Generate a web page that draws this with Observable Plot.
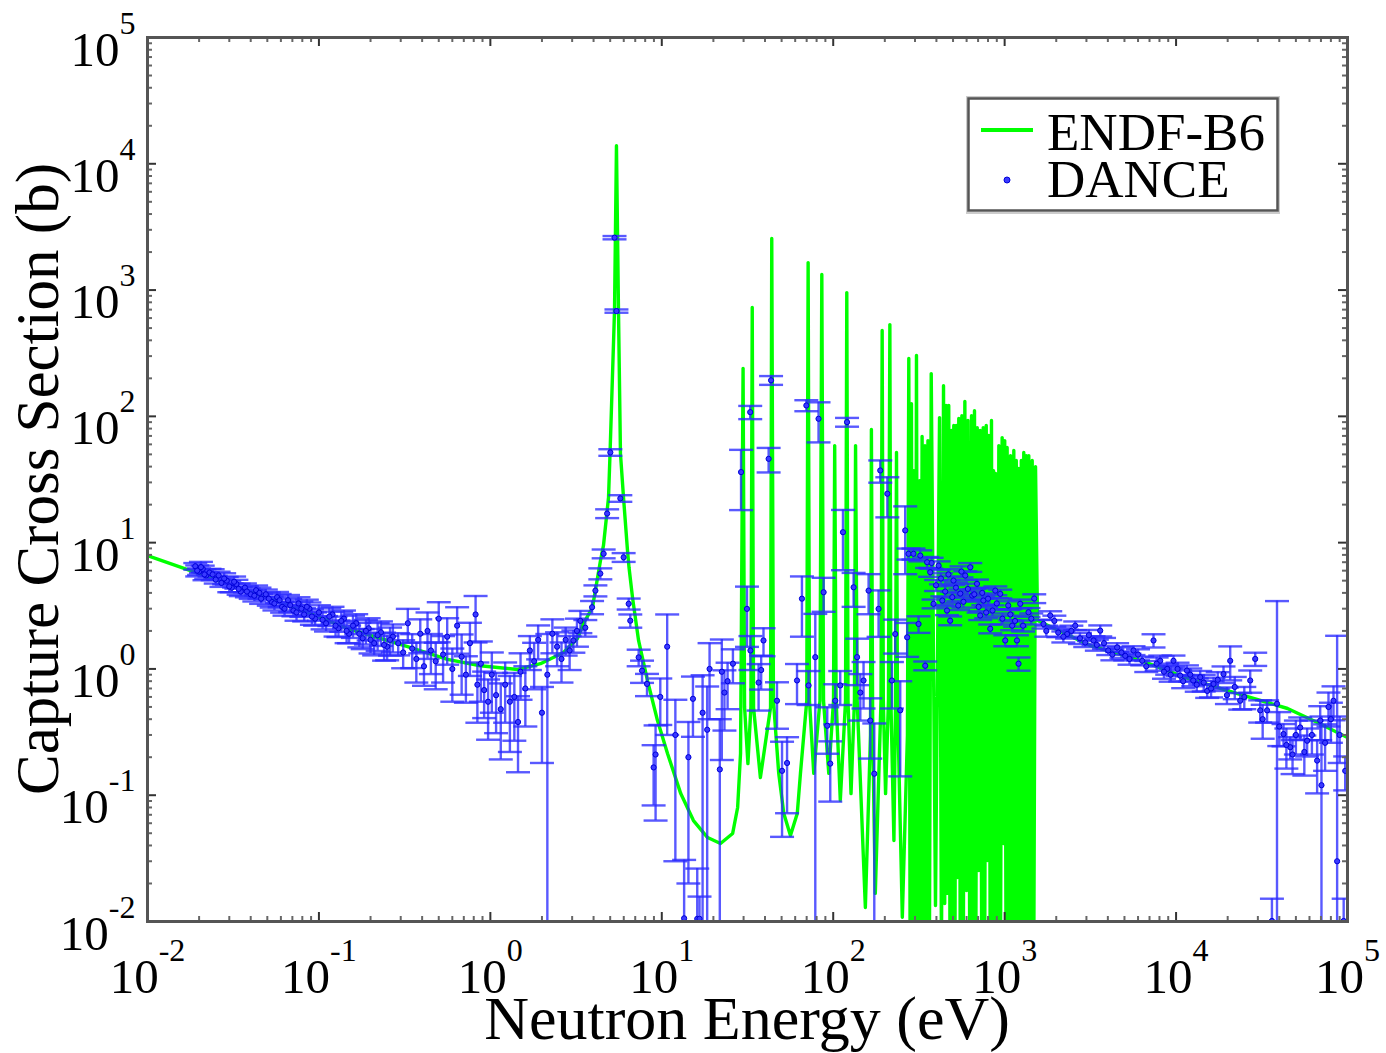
<!DOCTYPE html>
<html><head><meta charset="utf-8">
<script src="https://cdn.jsdelivr.net/npm/d3@7"></script>
<script src="https://cdn.jsdelivr.net/npm/@observablehq/plot@0.6"></script>
<style>
html,body{margin:0;padding:0;background:#fff;}
#chart{width:1386px;height:1053px;}
</style></head><body><div id="chart"></div>
<script>
// ---------- axis ticks ----------
const xTicks = [1e-2, 1e-1, 1, 10, 100, 1e3, 1e4, 1e5];
const xTickExponents = ["-2", "-1", "0", "1", "2", "3", "4", "5"];
const yTicks = [1e-2, 1e-1, 1, 10, 100, 1e3, 1e4, 1e5];
const yTickExponents = ["-2", "-1", "0", "1", "2", "3", "4", "5"];
const decadeExponents = [-2, -1, 0, 1, 2, 3, 4];
const minorMultipliers = [2, 3, 4, 5, 6, 7, 8, 9];

// ---------- ENDF-B6 evaluated curve (eV, barns) ----------
const endfEnergy = [
  0.01,0.0178,0.078,0.147,0.329,0.562,0.876,1.44,1.96,2.67,3.22,3.49,3.94,4.39,4.57,4.89,4.99,5.30,5.44,5.59,5.74,5.98,6.31,6.44,6.75,7.32,8.25,9.44,10.8,12.9,15.3,18.5,22.0,25.9,27.7,28.8,
  29.8,30.4,31.8,33.1,33.7,34.3,37.6,43.1,43.8,44.8,48.1,51.5,56.3,61.7,64.4,70.1,71.4,72.7,77.0,83.7,85.8,87.8,94.2,100.4,102,104,110,118,120,122,127,133,135,138,154,165,167,170,176,190,193,196,202,210,214,217,226,231,234,237,253,271,276,
  281,286,291,296,301,306,312,319,324,330,336,343,350,357,364,373,395,417,428,440,447,455,464,472,480,489,496,505,513,522,531,540,551,563,574,586,599,611,626,641,654,667,679,692,706,720,735,750,765,781,794,808,824,838,849,861,873,885,905,925,946,967,985,1001,1019,1034,1057,1082,1107,1131,1149,1169,1189,1209,1229,1251,1271,1293,1315,1338,1359,1383,1415,1448,1479,1514,1555,
  3170,6200,11350,22800,44700,66800,100000
];
const endfSigma = [
  7.9,6.0,2.95,2.09,1.50,1.19,1.06,0.99,1.10,1.35,1.74,2.29,3.06,7.22,9.5,22.8,50.8,688,13900,688,50.8,22.8,8.66,6.35,3.67,1.68,0.81,0.39,0.214,0.103,0.063,0.0462,0.0415,0.0498,0.080,0.214,
  240,0.5,0.178,0.5,727,0.495,0.138,0.495,2560,0.562,0.149,0.0716,0.048,0.0716,0.149,0.56,1650,0.56,0.149,0.56,1330,0.56,0.149,0.56,58.7,0.56,0.091,0.56,955,0.56,0.103,0.56,58.7,0.56,0.0129,0.3,78.6,0.3,0.0167,0.56,478,0.56,0.103,0.56,533,0.56,0.0438,0.56,51.7,0.56,0.0108,0.3,287,
  0.0049,126,0.0049,37.2,0.0049,303,0.0049,31.0,0.0049,69.2,0.0049,58.7,0.0049,64.3,0.0049,218,0.0134,97.8,0.0049,175,0.0139,122,0.0167,122,0.0049,77.2,0.0049,84.6,0.0049,84.6,0.0223,96.1,0.0049,101,0.0049,131,0.0176,92.6,0.0049,101,0.0049,111,0.0049,81.5,0.0253,77.2,0.0049,81.5,0.0049,84.6,0.0304,70.5,0.0049,92.6,0.0049,37.2,0.0049,35.3,0.0049,58.7,0.0049,67.9,0.0415,64.3,0.0049,56.6,0.0049,48.9,0.0049,53.6,0.0049,44.7,0.0049,38.6,0.0049,44.7,0.0049,51.7,0.0049,48.9,0.0049,48.9,0.0049,44.7,0.0049,40.0,2.42,
  1.53,1.17,0.855,0.638,0.486,0.376,0.286
];

// ---------- DANCE measurement (eV, barns, relative uncertainty) ----------
const danceEnergy = [
  0.019,0.020,0.021,0.022,0.023,0.025,0.026,0.027,0.029,0.031,0.033,0.035,0.037,0.040,0.043,0.046,0.049,0.053,0.057,0.061,0.066,0.071,0.076,0.082,0.088,0.095,0.10,0.11,0.12,0.13,0.14,0.15,0.165,0.18,0.195,0.21,0.23,0.25,0.27,
  0.29,0.31,0.33,0.35,0.37,0.39,0.41,0.43,0.45,0.48,0.50,0.53,0.56,0.60,0.64,0.68,0.72,0.76,0.82,0.84,0.88,0.92,0.97,1.02,1.08,1.15,1.22,1.3,1.38,1.45,1.5,1.6,1.7,1.8,1.9,2.0,2.15,2.3,2.45,2.6,2.75,2.9,3.05,3.2,3.35,3.58,3.92,4.10,4.38,4.58,4.80,5.01,5.30,5.44,5.73,5.99,6.41,6.55,7.33,7.67,8.2,
  8.96,9.2,9.8,10.75,12.0,13.5,14.3,15.2,16.1,16.6,17.3,18.4,19.0,21.8,22.4,23.2,24.2,26.0,
  29.0,31.4,32.8,32.9,36.7,38.0,39.2,42.0,43.4,47.0,50.3,53.8,61.5,65.7,69.7,71.8,78.6,82.1,87.9,92.3,96.1,102.8,109.9,114,120.4,131.5,137.8,143.9,150.3,160.8,164.5,173.6,183.9,188.1,206.9,220,230,246,263,270,275,294,314.6,322,344,353,
  368,385,412,433,461,481,503,536,551,589,630,647,690,720,751,824,882,943,1008,1049,1106,1180,1205,1233,1378,1488,
  1685,1845,2054,2315,2581,2952,3299,3611,4020,4530,5051,5647,6347,7386,8081,8878,9659,10570,11570,12590,13830,15190,16540,18910,20690,23670,27070,28950,30960,33960,36240,38800,42340,46320,47800,52970,58150,66500,69300,70500,77460,82860,87000,95000,96960,
  0.0195,0.0205,0.0215,0.024,0.028,0.030,0.032,0.034,0.038,0.042,0.045,0.051,0.055,0.059,0.063,0.068,0.074,0.079,0.085,0.091,0.105,0.115,0.125,0.135,0.145,0.158,0.172,0.188,0.2,0.22,0.24,0.26,
  375,398,425,450,470,495,520,560,575,610,665,705,740,780,800,850,900,970,1080,1150,1280,1430,
  1750,1950,2200,2450,2750,3100,3450,3800,4250,4800,5350,6000,6700,7700,8500,9300,10200,11000,12100,13200,14500,16000,17500,19800,22000,25000,32000,40000,44000,50000,56000,62000,74000,80000,90000
];
const danceSigma = [
  6.5,5.9,6.2,5.5,5.8,5.1,5.5,4.8,5.0,4.4,4.7,4.1,4.4,3.9,4.2,3.6,3.9,3.4,3.7,3.1,3.5,2.9,3.3,2.7,3.0,2.5,2.8,2.3,2.7,2.1,2.5,1.9,2.3,1.75,2.1,1.6,1.95,1.5,1.8,
  1.6,1.35,2.3,1.45,1.2,1.9,1.05,2.0,1.4,1.15,2.5,1.3,1.8,1.0,2.2,1.25,0.9,1.6,2.7,0.75,1.1,0.68,0.55,0.9,0.62,0.48,0.75,0.55,0.6,0.38,0.95,0.7,1.4,1.15,1.7,0.45,0.9,1.9,1.5,1.2,1.7,1.4,1.68,2.0,2.4,2.12,3.08,4.17,5.69,8.17,17.0,51.8,2600,682,22.4,7.65,3.28,2.41,1.235,0.969,0.761,
  0.166,0.21,0.6,1.5,0.3,0.0106,0.2,0.58,0.0105,0.0105,0.45,0.33,1.0,0.16,0.95,0.65,0.8,1.1,
  36.2,2.99,108,1.4,0.78,0.98,1.68,46.1,193,0.56,0.156,0.18,0.81,3.6,122,0.74,1.24,95.7,4.05,0.355,0.178,0.56,0.74,12.1,90,4.43,1.24,0.65,0.81,4.17,0.39,0.148,2.99,37.3,24.4,0.81,1.89,0.47,12.5,1.78,8.16,8.16,2.27,7.9,1.06,7.0,
  5.83,3.28,6.58,3.48,2.9,2.41,5.01,3.18,3.95,5.49,6.38,3.81,4.72,2.65,3.48,2.08,4.17,3.93,1.68,3.18,2.2,1.68,1.1,3.28,2.81,3.61,
  2.27,2.65,1.94,1.89,2.2,1.62,1.68,2.01,1.4,1.48,1.27,1.4,1.16,1.68,1.16,1.0,1.16,0.885,0.97,0.81,0.86,0.67,0.76,0.91,1.16,0.56,0.81,1.2,0.47,0.47,0.0101,0.53,0.305,0.24,0.21,0.344,0.27,0.188,0.39,0.12,0.5,0.56,0.03,0.0101,0.156,
  6.0,6.4,5.6,5.6,5.2,4.5,4.9,4.3,4.1,3.8,4.0,3.6,3.3,3.5,3.0,3.2,2.8,3.0,3.1,2.6,2.45,2.6,2.2,2.4,2.0,2.2,1.9,2.0,1.7,1.85,1.55,1.7,
  6.9,4.6,5.2,4.1,5.6,3.7,4.4,5.9,3.4,4.3,3.9,3.1,4.0,2.8,3.6,2.9,3.3,2.5,2.7,2.4,2.2,2.5,
  2.0,2.4,1.8,2.0,1.75,1.85,1.55,1.6,1.3,1.35,1.2,1.3,1.05,1.1,0.95,0.9,1.0,0.8,0.9,0.75,0.78,0.7,0.82,0.62,0.72,0.6,0.4,0.35,0.25,0.3,0.22,0.3,0.26,0.4,0.3
];
const danceRelErr = [
  0.06,0.06,0.06,0.06,0.07,0.07,0.07,0.07,0.07,0.08,0.08,0.08,0.08,0.08,0.09,0.09,0.09,0.1,0.1,0.1,0.1,0.1,0.12,0.12,0.12,0.12,0.14,0.14,0.15,0.15,0.16,0.16,0.18,0.18,0.2,0.2,0.22,0.22,0.25,
  0.2,0.25,0.3,0.3,0.35,0.3,0.3,0.4,0.35,0.4,0.35,0.4,0.4,0.45,0.4,0.5,0.4,0.45,0.4,0.5,0.5,0.4,0.5,0.5,0.5,0.6,0.5,0.6,0.55,0.6,0.4,0.5,0.3,0.4,0.3,0.6,1.1,0.3,0.3,0.35,0.25,0.3,0.2,0.25,0.2,0.15,0.12,0.1,0.1,0.08,0.08,0.06,0.03,0.03,0.06,0.08,0.1,0.12,0.15,0.2,0.2,
  0.5,0.7,0.4,0.8,0.9,1.9,0.9,0.5,1.5,0.5,0.98,1.2,0.6,1.5,0.8,0.5,0.4,0.3,
  0.5,0.5,0.12,0.3,0.4,0.3,0.25,0.22,0.08,0.4,0.7,0.6,0.35,0.5,0.1,0.3,1.2,0.35,0.3,0.4,0.5,0.35,0.3,0.5,0.08,0.3,0.4,0.4,0.4,0.35,0.5,1.5,0.4,0.2,0.35,0.4,0.3,0.7,0.55,0.3,0.1,0.1,0.15,0.1,0.08,0.1,
  0.08,0.08,0.08,0.08,0.08,0.08,0.08,0.08,0.08,0.08,0.08,0.08,0.08,0.08,0.08,0.08,0.08,0.08,0.1,0.08,0.08,0.1,0.12,0.08,0.08,0.08,
  0.08,0.08,0.08,0.08,0.08,0.08,0.08,0.1,0.08,0.08,0.08,0.08,0.08,0.12,0.1,0.1,0.1,0.1,0.1,0.1,0.12,0.12,0.12,0.15,0.3,0.15,0.2,0.12,0.2,0.2,0.5,5.5,0.2,0.2,0.3,0.2,0.25,0.45,0.3,2.5,0.3,0.3,60,0.5,0.3,
  0.1,0.1,0.1,0.1,0.1,0.1,0.1,0.1,0.1,0.1,0.1,0.12,0.12,0.12,0.12,0.12,0.14,0.14,0.14,0.14,0.16,0.16,0.18,0.18,0.2,0.2,0.22,0.22,0.22,0.25,0.25,0.25,
  0.1,0.1,0.1,0.1,0.1,0.1,0.1,0.1,0.1,0.1,0.1,0.1,0.1,0.1,0.1,0.1,0.1,0.1,0.1,0.1,0.1,0.1,
  0.1,0.1,0.1,0.1,0.1,0.1,0.1,0.1,0.1,0.1,0.1,0.1,0.1,0.12,0.12,0.12,0.12,0.12,0.12,0.12,0.15,0.15,0.15,0.15,0.2,0.2,0.3,0.3,0.35,0.3,0.35,0.3,0.4,0.35,0.4
];

// ---------- tables for the library ----------
const endf = endfEnergy.map((E, i) => ({E, S: endfSigma[i]}));
const dance = danceEnergy.map((E, i) => {
  const S = danceSigma[i], e = danceRelErr[i];
  return {E, S, hi: S * (1 + e), lo: Math.max(S * (1 - e), 1e-4)};
});
const minorTicks = decadeExponents.flatMap(k => minorMultipliers.map(m => m * Math.pow(10, k)));

const W = 1386, H = 1053, mL = 147, mR = 39, mT = 37, mB = 132;
const pW = W - mL - mR, pH = H - mT - mB;
const serif = "Liberation Serif, Times New Roman, serif";
const blue = "#2a2aff";

const capSymbol = {draw(ctx, size) { const w = Math.sqrt(size / Math.PI); ctx.moveTo(-w, 0); ctx.lineTo(w, 0); }};

const plot = Plot.plot({
  width: W, height: H,
  marginLeft: mL, marginRight: mR, marginTop: mT, marginBottom: mB,
  x: {type: "log", domain: [1e-2, 1e5], axis: null},
  y: {type: "log", domain: [1e-2, 1e5], axis: null},
  style: {background: "white", overflow: "visible"},
  marks: [
    Plot.line(endf, {x: "E", y: "S", stroke: "#00ff00", strokeWidth: 3.4, strokeLinejoin: "round", strokeLinecap: "round", clip: true}),
    Plot.ruleX(dance, {x: "E", y1: "lo", y2: "hi", stroke: blue, strokeOpacity: 0.78, strokeWidth: 2.4, clip: true}),
    Plot.dot(dance, {x: "E", y: "hi", symbol: capSymbol, r: 12, fill: "none", stroke: blue, strokeOpacity: 0.78, strokeWidth: 2.4, clip: true}),
    Plot.dot(dance, {x: "E", y: "lo", symbol: capSymbol, r: 12, fill: "none", stroke: blue, strokeOpacity: 0.78, strokeWidth: 2.4, clip: true}),
    Plot.dot(dance, {x: "E", y: "S", r: 2.6, fill: "#3a3aff", stroke: "#0000d8", strokeWidth: 1, clip: true}),
    // inward ticks on all four sides
    Plot.ruleX(xTicks, {insetTop: pH - 9, stroke: "#333", strokeWidth: 2}),
    Plot.ruleX(xTicks, {insetBottom: pH - 9, stroke: "#333", strokeWidth: 2}),
    Plot.ruleX(minorTicks, {insetTop: pH - 5, stroke: "#666", strokeWidth: 2}),
    Plot.ruleX(minorTicks, {insetBottom: pH - 5, stroke: "#666", strokeWidth: 2}),
    Plot.ruleY(yTicks, {insetRight: pW - 9, stroke: "#333", strokeWidth: 2}),
    Plot.ruleY(yTicks, {insetLeft: pW - 9, stroke: "#333", strokeWidth: 2}),
    Plot.ruleY(minorTicks, {insetRight: pW - 5, stroke: "#666", strokeWidth: 2}),
    Plot.ruleY(minorTicks, {insetLeft: pW - 5, stroke: "#666", strokeWidth: 2}),
    Plot.frame({stroke: "#555", strokeWidth: 3}),
    Plot.text(xTicks, {x: d => d, frameAnchor: "bottom", lineAnchor: "bottom", textAnchor: "middle", dy: 71, text: () => "10", fontSize: 49, fontFamily: serif, fill: "#000"}),
    Plot.text(yTicks, {y: d => d, frameAnchor: "left", lineAnchor: "bottom", textAnchor: "end", dx: -12, dy: 28, text: () => "10", fontSize: 49, fontFamily: serif, fill: "#000"})
  ]
});

const svg = d3.select(plot);
// append superscript exponents to the "10" tick labels (first text mark = x, second = y)
const textGroups = svg.selectAll('g[aria-label="text"]').nodes();
const addExponents = (group, exps) => {
  d3.select(group).selectAll("text").each(function (d, i) {
    d3.select(this).append("tspan").attr("dy", -32).attr("font-size", 32).text(exps[i]);
  });
};
if (textGroups.length >= 2) {
  addExponents(textGroups[0], xTickExponents);
  addExponents(textGroups[1], yTickExponents);
}

// axis titles
svg.append("text").attr("x", mL + pW / 2).attr("y", 1039).attr("text-anchor", "middle")
  .attr("font-family", serif).attr("font-size", 62).attr("fill", "#000").text("Neutron Energy (eV)");
svg.append("text").attr("transform", `translate(58,${mT + pH / 2}) rotate(-90)`).attr("text-anchor", "middle")
  .attr("font-family", serif).attr("font-size", 61).attr("fill", "#000").text("Capture Cross Section (b)");

// legend
const lg = svg.append("g").attr("text-anchor", "start");
lg.append("rect").attr("x", 967).attr("y", 97).attr("width", 312).attr("height", 116).attr("fill", "none").attr("stroke", "#ccc").attr("stroke-width", 2);
lg.append("rect").attr("x", 968.5).attr("y", 98.5).attr("width", 309).attr("height", 112).attr("fill", "white").attr("stroke", "#555").attr("stroke-width", 2.5);
lg.append("line").attr("x1", 981).attr("x2", 1033).attr("y1", 130).attr("y2", 130).attr("stroke", "#00ff00").attr("stroke-width", 4);
lg.append("circle").attr("cx", 1007).attr("cy", 180).attr("r", 3).attr("fill", "#3a3aff").attr("stroke", "#0000d8");
lg.append("text").attr("x", 1047).attr("y", 150).attr("text-anchor", "start").attr("font-family", serif).attr("font-size", 53).attr("fill", "#000").text("ENDF-B6");
lg.append("text").attr("x", 1047).attr("y", 197).attr("text-anchor", "start").attr("font-family", serif).attr("font-size", 53).attr("fill", "#000").text("DANCE");

document.getElementById("chart").appendChild(plot);
</script>
</body></html>
